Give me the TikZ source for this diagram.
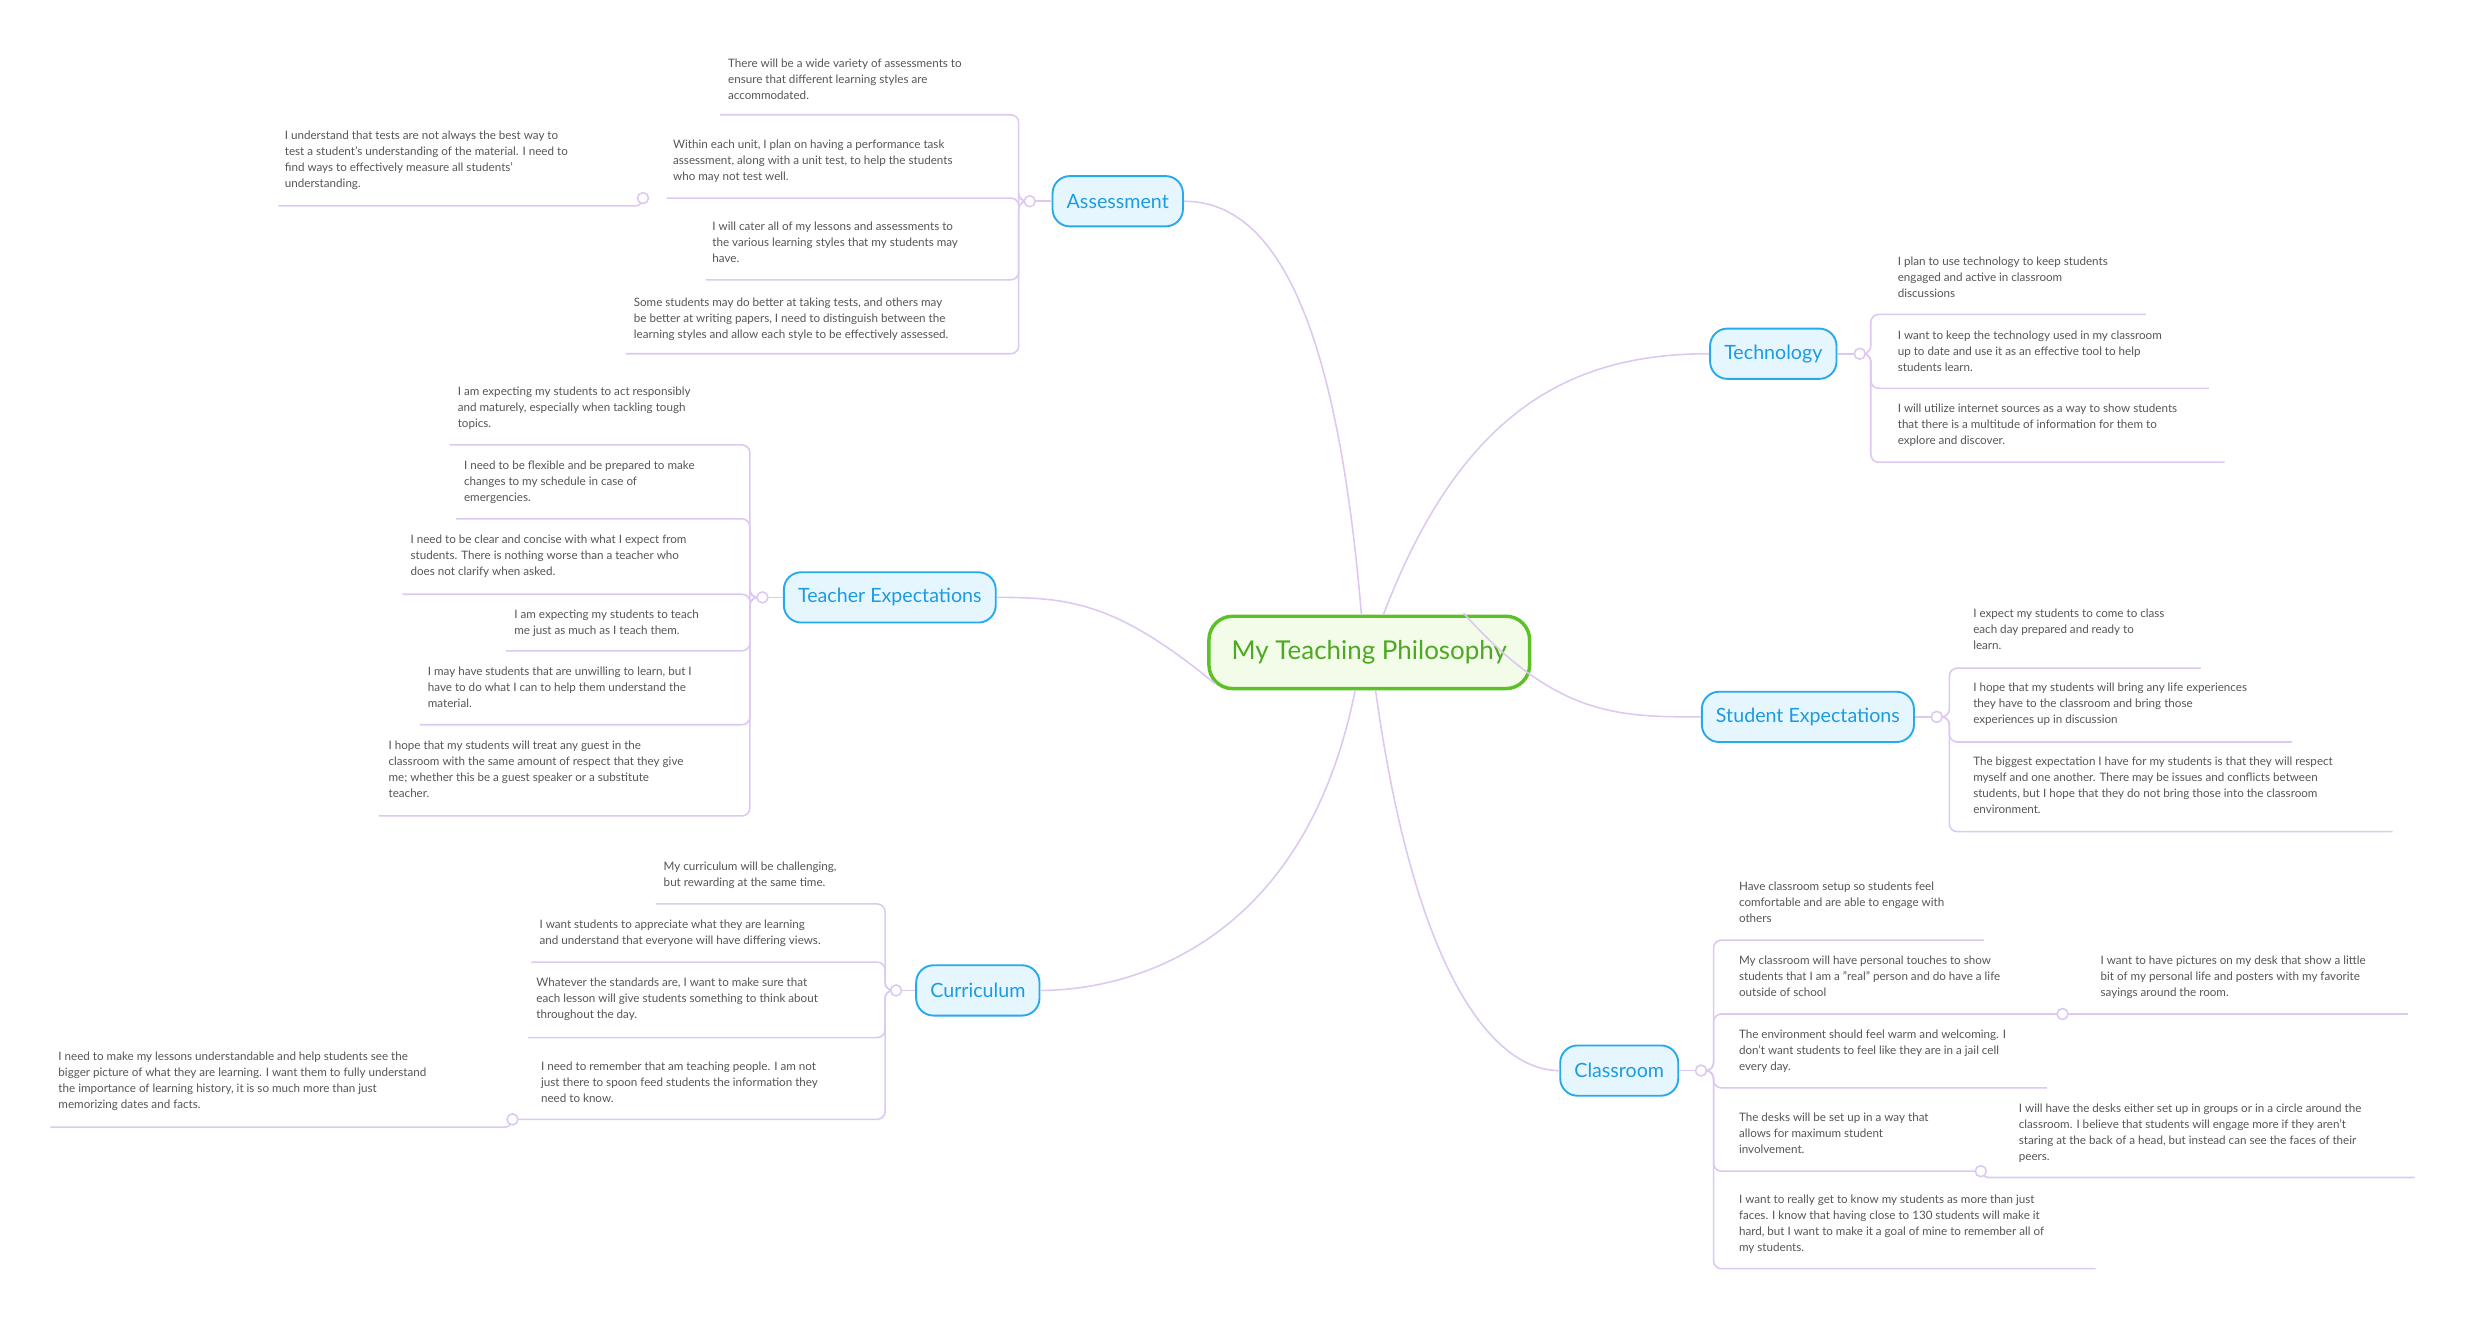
\documentclass[tikz,border=0pt]{standalone}
\usepackage{fontspec}
\setmainfont{Lato}
\usetikzlibrary{calc}
\definecolor{br}{HTML}{DCC8F0}
\definecolor{tb}{HTML}{27A9EE}
\definecolor{tf}{HTML}{E5F6FF}
\definecolor{tt}{HTML}{1C9BE0}
\definecolor{gb}{HTML}{5CC126}
\definecolor{gf}{HTML}{F2FCE8}
\definecolor{gt}{HTML}{4FA823}
\definecolor{lt}{HTML}{555555}
\newcommand\leaf[8]{%
  \draw[brl] (#1,#2) -- (#3,#2) |- (#5,#4);
  \node[lt] at (#6,#7) {#8};}
\begin{document}
\begin{tikzpicture}[x=1pt,y=-1pt,
  brl/.style={draw=br,line width=1pt,rounded corners=5pt},
  lt/.style={anchor=north west,inner sep=0,align=left,text=lt,font=\fontsize{7.4}{10.2}\selectfont},
  topic/.style={draw=tb,fill=tf,text=tt,line width=1.2pt,rounded corners=11pt,minimum height=32pt,inner xsep=9pt,font=\fontsize{12.5}{14}\selectfont},
  jn/.style={circle,draw=br,fill=white,line width=1pt,minimum size=7pt,inner sep=0}]
\useasboundingbox (0,0) rectangle (1568,839);
\node[draw=gb,fill=gf,text=gt,line width=2.2pt,rounded corners=15pt,minimum width=204pt,minimum height=46pt,font=\fontsize{16.5}{19}\selectfont] (c) at (871,415) {My Teaching Philosophy};
\node[topic] (as) at (711,128) {Assessment};
\node[topic] (te) at (1128,225) {Technology};
\node[topic] (tx) at (566,380) {Teacher Expectations};
\node[topic] (se) at (1150,456) {Student Expectations};
\node[topic] (cu) at (622,630) {Curriculum};
\node[topic] (cl) at (1030,681) {Classroom};
\draw[brl] ([xshift=-5pt]c.north) .. controls (850,200) and (810,128) .. (as.east);
\draw[brl] ([xshift=9pt]c.north) .. controls (930,260) and (1000,225) .. (te.west);
\draw[brl] ([xshift=-98pt,yshift=-20pt]c.center) .. controls (710,383) and (680,380) .. (tx.east);
\draw[brl] ([xshift=60pt,yshift=25pt]c.center) .. controls (990,456) and (1030,456) .. (se.west);
\draw[brl] ([xshift=-9pt]c.south) .. controls (830,600) and (720,630) .. (cu.east);
\draw[brl] ([xshift=4pt]c.south) .. controls (900,620) and (950,681) .. (cl.west);
% Assessment
\draw[brl] (as.west) -- (655,128);
\leaf{655}{128}{648}{73}{458}{463}{37}{There will be a wide variety of assessments to\\ensure that different learning styles are\\accommodated.}
\leaf{655}{128}{648}{126}{424}{428}{89}{Within each unit, I plan on having a performance task\\assessment, along with a unit test, to help the students\\who may not test well.}
\leaf{655}{128}{648}{178}{449}{453}{141}{I will cater all of my lessons and assessments to\\the various learning styles that my students may\\have.}
\leaf{655}{128}{648}{225}{398}{403}{189}{Some students may do better at taking tests, and others may\\be better at writing papers, I need to distinguish between the\\learning styles and allow each style to be effectively assessed.}
\draw[brl] (409,126) |- (177,131);
\node[lt] at (181,83) {I understand that tests are not always the best way to\\test a student's understanding of the material. I need to\\find ways to effectively measure all students'\\understanding.};
\node[jn] (ja2) at (409,126) {};
\node[jn] (ja) at (655,128) {};
% Technology
\draw[brl] (te.east) -- (1183,225);
\leaf{1183}{225}{1190}{200}{1365}{1207}{163}{I plan to use technology to keep students\\engaged and active in classroom\\discussions}
\leaf{1183}{225}{1190}{247}{1405}{1207}{210}{I want to keep the technology used in my classroom\\up to date and use it as an effective tool to help\\students learn.}
\leaf{1183}{225}{1190}{294}{1415}{1207}{257}{I will utilize internet sources as a way to show students\\that there is a multitude of information  for them to\\explore and discover.}
\node[jn] (jt) at (1183,225) {};
% Teacher expectations
\draw[brl] (tx.west) -- (485,380);
\leaf{485}{380}{477}{283}{286}{291}{246}{I am expecting my students to act responsibly\\and maturely, especially when tackling tough\\topics.}
\leaf{485}{380}{477}{330}{290}{295}{293}{I need to be flexible and be prepared to make\\changes to my schedule in case of\\emergencies.}
\leaf{485}{380}{477}{378}{256}{261}{340}{I need to be clear and concise with what I expect from\\students. There is nothing worse than a teacher who\\does not clarify when asked.}
\leaf{485}{380}{477}{414}{322}{327}{388}{I am expecting my students to teach\\me just as much as I teach them.}
\leaf{485}{380}{477}{461}{267}{272}{424}{I may have students that are unwilling to learn, but I\\have to do what I can to help them understand the\\material.}
\leaf{485}{380}{477}{519}{241}{247}{471}{I hope that my students will treat any guest in the\\classroom with the same amount of respect that they give\\me; whether this be a guest speaker or a substitute\\teacher.}
\node[jn] (jx) at (485,380) {};
% Student expectations
\draw[brl] (se.east) -- (1232,456);
\leaf{1232}{456}{1240}{425}{1400}{1255}{387}{I expect my students to come to class\\each day prepared and ready to\\learn.}
\leaf{1232}{456}{1240}{472}{1458}{1255}{434}{I hope that my students will bring any life experiences\\they have to the classroom and bring those\\experiences up in discussion}
\leaf{1232}{456}{1240}{529}{1522}{1255}{481}{The biggest expectation I have for my students is that they will respect\\myself and one another.  There may be issues and conflicts between\\students, but I hope that they do not bring those into the classroom\\environment.}
\node[jn] (js) at (1232,456) {};
% Curriculum
\draw[brl] (cu.west) -- (570,630);
\leaf{570}{630}{563}{575}{417}{422}{548}{My curriculum will be challenging,\\but rewarding at the same time.}
\leaf{570}{630}{563}{612}{338}{343}{585}{I want students to appreciate what they are learning\\and understand that everyone will have differing views.}
\leaf{570}{630}{563}{660}{336}{341}{622}{Whatever the standards are, I want to make sure that\\each lesson will give students something to think about\\throughout the day.}
\leaf{570}{630}{563}{712}{326}{344}{675}{I need to remember that am teaching people. I am not\\just there to spoon feed students the information they\\need to know.}
\draw[brl] (326,712) |- (32,717);
\node[lt] at (37,669) {I need to make my lessons understandable and help students see the\\bigger picture of what they are learning. I want them to fully understand\\the importance of learning history, it is so much more than just\\memorizing dates and facts.};
\node[jn] (jc4) at (326,712) {};
\node[jn] (jc) at (570,630) {};
% Classroom
\draw[brl] (cl.east) -- (1082,681);
\leaf{1082}{681}{1090}{598}{1262}{1106}{561}{Have classroom setup so students feel\\comfortable and are able to engage with\\others}
\leaf{1082}{681}{1090}{645}{1312}{1106}{608}{My classroom will have personal touches to show\\students that I am a "real" person and do have a life\\outside of school}
\leaf{1082}{681}{1090}{692}{1302}{1106}{655}{The environment should feel warm and welcoming. I\\don't want students to feel like they are in a jail cell\\every day.}
\leaf{1082}{681}{1090}{745}{1260}{1106}{708}{The desks will be set up in a way that\\allows for maximum student\\involvement.}
\leaf{1082}{681}{1090}{807}{1333}{1106}{760}{I want to really get to know my students as more than just\\faces. I know that having close to 130 students will make it\\hard, but I  want to make it a goal of mine to remember all of\\my students.}
\draw[brl] (1312,645) -- (1532,645);
\node[lt] at (1336,608) {I want to have pictures on my desk that show a little\\bit of my personal life and posters with my favorite\\sayings around the room.};
\draw[brl] (1260,745) |- (1536,749);
\node[lt] at (1284,702) {I will have the desks either set up in groups or in a circle around the\\classroom. I believe that students will engage more if they aren't\\staring at the back of a head, but instead can see the faces of their\\peers.};
\node[jn] (jr2) at (1312,645) {};
\node[jn] (jr4) at (1260,745) {};
\node[jn] (jr) at (1082,681) {};
\end{tikzpicture}
\end{document}
